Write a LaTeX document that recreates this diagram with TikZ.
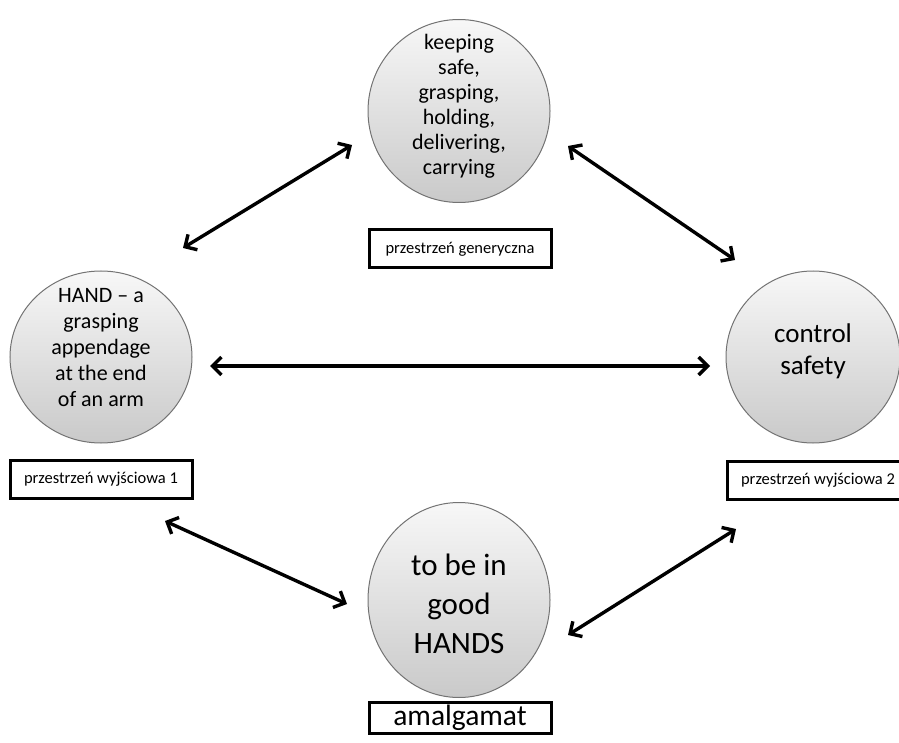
\documentclass[tikz,border=0pt]{standalone}
\usepackage{fontspec}
\setmainfont{Carlito}
\usetikzlibrary{arrows.meta,shapes.geometric}

\tikzset{space/.style={ellipse,draw=black!55,line width=1pt,top color=gray!6,bottom color=gray!42,inner sep=0pt},
space text/.style={align=center,inner sep=0pt},
space label/.style={draw,line width=3pt,fill=white,inner sep=0pt,minimum width=182pt,minimum height=38pt,font=\fontsize{16.5}{19}\selectfont},
link/.style={line width=3.4pt,{Straight Barb[length=9pt,width=18pt]}-{Straight Barb[length=9pt,width=18pt]}}}

\begin{document}
\begin{tikzpicture}[x=1pt,y=-1pt]
\useasboundingbox (0,0) rectangle (899,743);

%% mental spaces
\node [space,minimum width=182pt,minimum height=183pt] (gen) at (459,111) {};
\node [space,minimum width=182pt,minimum height=172pt] (in1) at (101,357) {};
\node [space,minimum width=174pt,minimum height=172pt] (in2) at (813,357) {};
\node [space,minimum width=182pt,minimum height=195pt] (blend) at (459,600) {};

%% texts in the spaces
\node [space text,font=\fontsize{22}{25}\selectfont] (gen text) at (459,106) {keeping\\safe,\\grasping,\\holding,\\delivering,\\carrying};
\node [space text,font=\fontsize{22}{26}\selectfont] (in1 text) at (101,348) {HAND -- a\\grasping\\appendage\\at the end\\of an arm};
\node [space text,font=\fontsize{27}{32}\selectfont] (in2 text) at (813,351) {control\\safety};
\node [space text,font=\fontsize{31}{39}\selectfont] (blend text) at (459,604) {to be in\\good\\HANDS};

%% labels
\node [space label] (gen label) at (460,249) {przestrzeń generyczna};
\node [space label] (in1 label) at (101,479) {przestrzeń wyjściowa 1};
\node [space label] (in2 label) at (818,480) {przestrzeń wyjściowa 2};
\node [space label,minimum height=31pt,font=\fontsize{29.5}{30}\selectfont] (blend label) at (460,718) {amalgamat};

%% arrow ends
\coordinate (a1) at (183,248);
\coordinate (a1p) at (352,145);
\coordinate (a2) at (568,146);
\coordinate (a2p) at (735,260);
\coordinate (a3) at (210,366);
\coordinate (a3p) at (710,366);
\coordinate (a4) at (165,521);
\coordinate (a4p) at (347,604);
\coordinate (a5) at (568,635);
\coordinate (a5p) at (736,529);

%% arrows
\draw [link] (a1) -- (a1p);
\draw [link] (a2) -- (a2p);
\draw [link] (a3) -- (a3p);
\draw [link] (a4) -- (a4p);
\draw [link] (a5) -- (a5p);

\end{tikzpicture}
\end{document}
